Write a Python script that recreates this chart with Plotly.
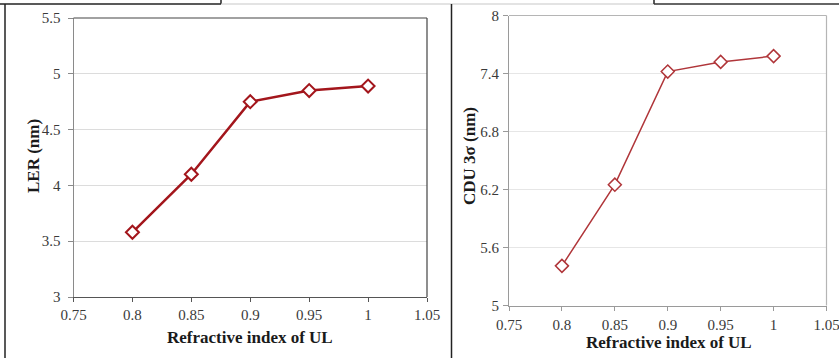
import plotly.graph_objects as go

# Data
refractive_index = [0.8, 0.85, 0.9, 0.95, 1.0]
ler_nm = [3.58, 4.10, 4.75, 4.85, 4.89]
cdu_3sigma_nm = [5.41, 6.25, 7.42, 7.52, 7.58]

x_ticks = [0.75, 0.8, 0.85, 0.9, 0.95, 1.0, 1.05]
x_tick_text = ["0.75", "0.8", "0.85", "0.9", "0.95", "1", "1.05"]
ler_ticks = [3, 3.5, 4, 4.5, 5, 5.5]
ler_tick_text = ["3", "3.5", "4", "4.5", "5", "5.5"]
cdu_ticks = [5, 5.6, 6.2, 6.8, 7.4, 8]
cdu_tick_text = ["5", "5.6", "6.2", "6.8", "7.4", "8"]

W, H = 839, 358
FONT = "Liberation Serif, Times New Roman, serif"

def px(x):
    return x / W

def py(y):
    return 1 - y / H

fig = go.Figure()

fig.add_trace(go.Scatter(
    x=refractive_index, y=ler_nm, mode="lines+markers",
    line=dict(color="#a3161c", width=2.5),
    marker=dict(symbol="diamond", size=10, color="white",
                line=dict(color="#a3161c", width=2)),
    xaxis="x", yaxis="y", showlegend=False))

fig.add_trace(go.Scatter(
    x=refractive_index, y=cdu_3sigma_nm, mode="lines+markers",
    line=dict(color="#b0363a", width=1.5),
    marker=dict(symbol="diamond", size=10, color="white",
                line=dict(color="#b0363a", width=1.5)),
    xaxis="x2", yaxis="y2", showlegend=False))

tickfont = dict(family=FONT, size=15, color="#3a3a3a")

fig.update_layout(
    width=W, height=H,
    margin=dict(l=0, r=0, t=0, b=0, autoexpand=False),
    paper_bgcolor="white", plot_bgcolor="white",
    xaxis=dict(domain=[px(73.5), px(427)], range=[0.75, 1.05],
               tickvals=x_ticks, ticktext=x_tick_text, tickfont=tickfont,
               showgrid=False, zeroline=False, showline=True,
               linecolor="#555555", linewidth=1.2, automargin=False,
               ticks="outside", ticklen=4, tickcolor="#555555", anchor="y",
               ticklabeloverflow="allow"),
    yaxis=dict(domain=[py(297), py(18)], range=[3, 5.5],
               tickvals=ler_ticks, ticktext=ler_tick_text, tickfont=tickfont,
               showgrid=True, gridcolor="#dcdcdc", gridwidth=1, automargin=False,
               zeroline=False, showline=True, linecolor="#8a8a8a", linewidth=1,
               ticks="outside", ticklen=5, tickcolor="#8a8a8a", anchor="x",
               ticklabelstandoff=4),
    xaxis2=dict(domain=[px(509), px(826.5)], range=[0.75, 1.05],
                tickvals=x_ticks, ticktext=x_tick_text, tickfont=tickfont,
                showgrid=False, zeroline=False, showline=True, automargin=False,
                linecolor="#9a9a9a", linewidth=1.2,
                ticks="outside", ticklen=4, tickcolor="#9a9a9a", anchor="y2",
                ticklabelstandoff=1, ticklabeloverflow="allow"),
    yaxis2=dict(domain=[py(305.5), py(15.5)], range=[5, 8],
                tickvals=cdu_ticks, ticktext=cdu_tick_text, tickfont=tickfont,
                showgrid=True, gridcolor="#e6e6e6", gridwidth=1, automargin=False,
                zeroline=False, showline=True, linecolor="#9a9a9a", linewidth=1.2,
                ticks="outside", ticklen=5, tickcolor="#9a9a9a", anchor="x2",
                ticklabelstandoff=1),
)

shapes = []
def line(x0, y0, x1, y1, color, width):
    shapes.append(dict(type="line", xref="paper", yref="paper",
                       x0=px(x0), y0=py(y0), x1=px(x1), y1=py(y1),
                       line=dict(color=color, width=width), layer="above"))

# Left plot top/right border (dark)
line(73.5, 18, 427, 18, "#444444", 1.2)
line(427, 18, 427, 297, "#444444", 1.2)
# Right plot top/right border (light gray)
line(509, 15.5, 826.5, 15.5, "#b5b5b5", 1.2)
line(826.5, 15.5, 826.5, 305.5, "#b5b5b5", 1.2)
# Document table frame lines
line(5, 4, 5, 358, "#222222", 1.5)
line(0, 4, 221, 4, "#222222", 1.5)
line(221, 0, 221, 4, "#222222", 1.5)
line(221, 4, 654, 4, "#c8c8c8", 1.2)
line(654, 0, 654, 4, "#222222", 1.5)
line(654, 4, 839, 4, "#333333", 1.5)
line(451.5, 4, 451.5, 358, "#222222", 1.5)
fig.update_layout(shapes=shapes)

titlefont = dict(family=FONT, size=17, color="#1a1a1a")
fig.add_annotation(text="<b>Refractive index of UL</b>", xref="paper", yref="paper",
                   x=px(250), y=py(337), showarrow=False, font=titlefont,
                   xanchor="center", yanchor="middle")
fig.add_annotation(text="<b>Refractive index of UL</b>", xref="paper", yref="paper",
                   x=px(669), y=py(342), showarrow=False, font=titlefont,
                   xanchor="center", yanchor="middle")
fig.add_annotation(text="<b>LER (nm)</b>", xref="paper", yref="paper",
                   x=px(33), y=py(156), showarrow=False, font=titlefont,
                   textangle=-90, xanchor="center", yanchor="middle")
fig.add_annotation(text="<b>CDU 3σ (nm)</b>", xref="paper", yref="paper",
                   x=px(469), y=py(156), showarrow=False, font=titlefont,
                   textangle=-90, xanchor="center", yanchor="middle")

fig.write_html("out.html")
